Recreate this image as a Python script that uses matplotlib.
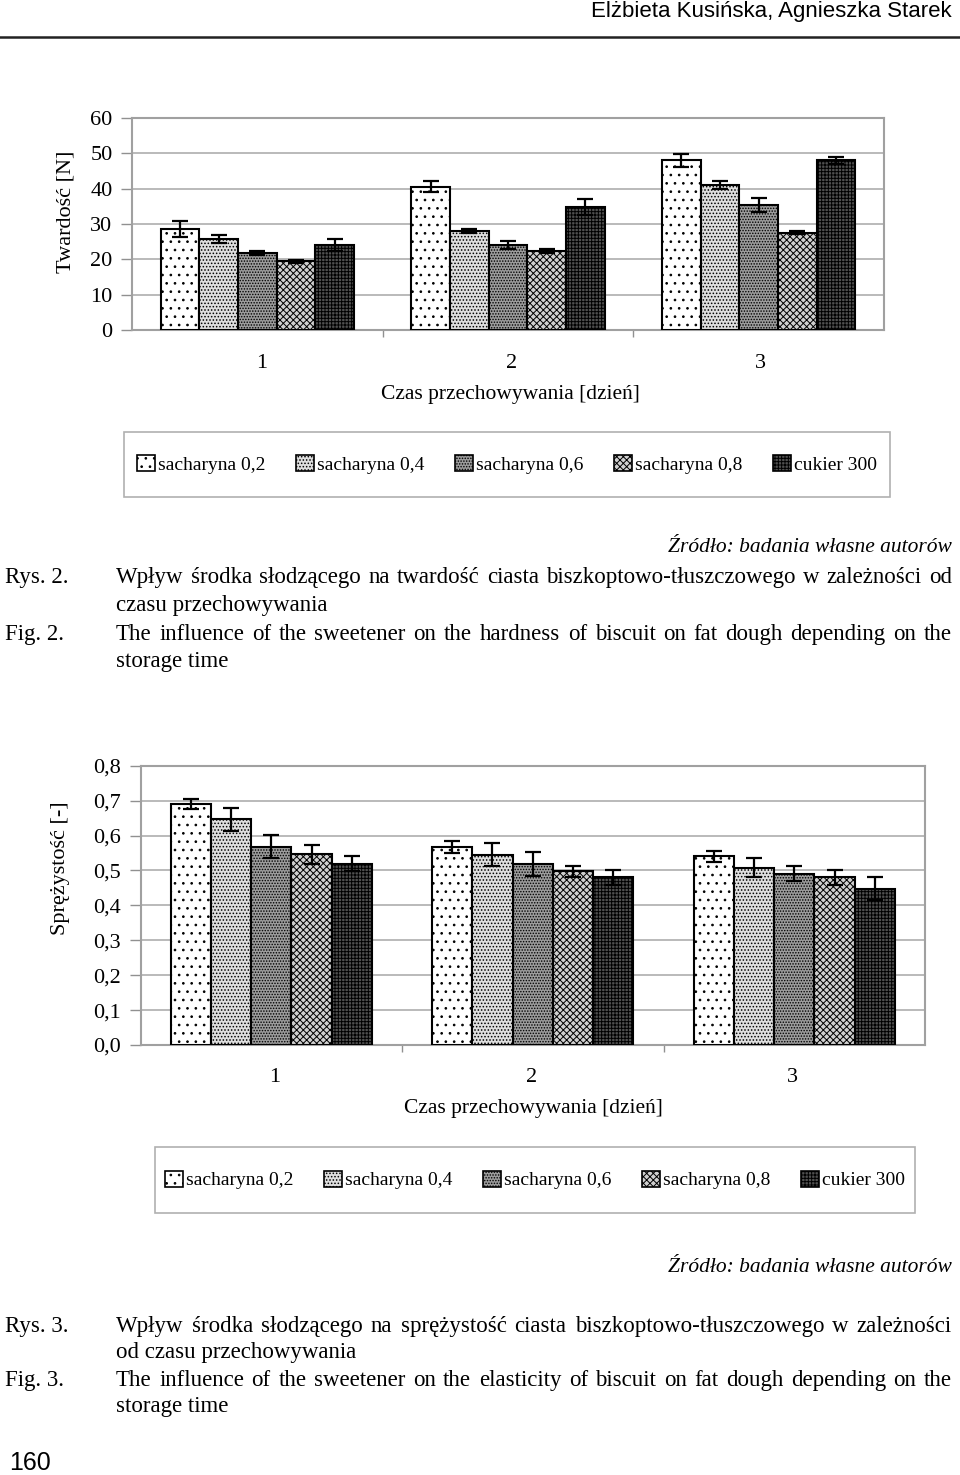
import matplotlib
matplotlib.use('Agg')
import matplotlib.pyplot as plt
import numpy as np
from matplotlib.patches import Patch, Rectangle

# data
days = ['1', '2', '3']
series = ['sacharyna 0,2', 'sacharyna 0,4', 'sacharyna 0,6', 'sacharyna 0,8', 'cukier 300']

hard_s02 = [28.6, 40.6, 48.0]
hard_s04 = [25.7, 28.0, 41.1]
hard_s06 = [21.7, 24.0, 35.4]
hard_s08 = [19.4, 22.3, 27.5]
hard_cuk = [24.1, 34.8, 48.0]
hard_err_s02 = [2.2, 1.6, 1.8]
hard_err_s04 = [1.1, 0.5, 1.1]
hard_err_s06 = [0.6, 1.1, 2.1]
hard_err_s08 = [0.5, 0.6, 0.4]
hard_err_cuk = [1.7, 2.3, 1.1]

elas_s02 = [0.691, 0.567, 0.541]
elas_s04 = [0.646, 0.545, 0.508]
elas_s06 = [0.568, 0.518, 0.491]
elas_s08 = [0.546, 0.497, 0.480]
elas_cuk = [0.519, 0.480, 0.447]
elas_err_s02 = [0.015, 0.018, 0.016]
elas_err_s04 = [0.032, 0.033, 0.027]
elas_err_s06 = [0.033, 0.034, 0.022]
elas_err_s08 = [0.028, 0.016, 0.022]
elas_err_cuk = [0.022, 0.022, 0.033]

hard_ticks = [0, 10, 20, 30, 40, 50, 60]
hard_ticklabels = ['0', '10', '20', '30', '40', '50', '60']
elas_ticks = [0, 0.1, 0.2, 0.3, 0.4, 0.5, 0.6, 0.7, 0.8]
elas_ticklabels = ['0,0', '0,1', '0,2', '0,3', '0,4', '0,5', '0,6', '0,7', '0,8']

# bar styles (face colour, hatch)
styles = [('white', '..'), ('#dedede', '.....'), ('#9c9c9c', '......'),
          ('#d0d0d0', 'xxxxx'), ('#505050', '+++++')]

SERIF = 'Liberation Serif'
SANS = 'Liberation Sans'
W, H = 960, 1475

plt.rcParams['hatch.linewidth'] = 0.7
fig = plt.figure(figsize=(W / 100, H / 100), dpi=100)


def fx(x):
    return x / W


def fy(y):
    return 1 - y / H


def bar_chart(rect, values, errors, ticks, ticklabels, ymax, capsize):
    ax = fig.add_axes(rect)
    x = np.arange(len(days))
    width = 0.77 / len(values)
    for i, (vals, errs) in enumerate(zip(values, errors)):
        fc, hatch = styles[i]
        ax.bar(x + (i - 2) * width, vals, width, color=fc, hatch=hatch,
               edgecolor='black', linewidth=1.5, zorder=3)
        ax.errorbar(x + (i - 2) * width, vals, yerr=errs, fmt='none',
                    ecolor='black', elinewidth=1.6, capsize=capsize,
                    capthick=1.6, zorder=4)
    ax.set_xlim(-0.5, 2.5)
    ax.set_ylim(0, ymax)
    ax.set_yticks(ticks)
    ax.set_yticklabels(ticklabels, fontsize=16, family=SERIF)
    ax.yaxis.grid(True, color='#b4b4b4', linewidth=1.3, zorder=0)
    ax.set_xticks([0.5, 1.5])
    ax.set_xticklabels([])
    ax.tick_params(axis='y', length=8, color='#909090', width=1, pad=6)
    ax.tick_params(axis='x', length=5, color='#909090', width=1, direction='out')
    for s in ax.spines.values():
        s.set_color('#a0a0a0')
        s.set_linewidth(1.5)
    return ax


# top chart - hardness
bar_chart([fx(132), fy(330), fx(884) - fx(132), (330 - 118) / H],
          [hard_s02, hard_s04, hard_s06, hard_s08, hard_cuk],
          [hard_err_s02, hard_err_s04, hard_err_s06, hard_err_s08, hard_err_cuk],
          hard_ticks, hard_ticklabels, 60, 6)
fig.text(fx(66), fy(212), 'Twardość [N]', rotation=90, ha='center', va='center',
         fontsize=16, family=SERIF)
for d, xp in zip(days, [262, 512, 760]):
    fig.text(fx(xp), fy(364), d, ha='center', va='center', fontsize=16, family=SERIF)
fig.text(fx(510), fy(395), 'Czas przechowywania [dzień]', ha='center', va='center',
         fontsize=15.5, family=SERIF)

# bottom chart - elasticity
bar_chart([fx(140.5), fy(1045), fx(925) - fx(140.5), (1045 - 765.7) / H],
          [elas_s02, elas_s04, elas_s06, elas_s08, elas_cuk],
          [elas_err_s02, elas_err_s04, elas_err_s06, elas_err_s08, elas_err_cuk],
          elas_ticks, elas_ticklabels, 0.8, 6)
fig.text(fx(60), fy(868), 'Sprężystość [-]', rotation=90, ha='center', va='center',
         fontsize=16, family=SERIF)
for d, xp in zip(days, [275, 532, 792]):
    fig.text(fx(xp), fy(1078), d, ha='center', va='center', fontsize=16, family=SERIF)
fig.text(fx(533), fy(1108), 'Czas przechowywania [dzień]', ha='center', va='center',
         fontsize=15.5, family=SERIF)


def legend_box(x0, x1, y0, y1):
    fig.patches.append(Rectangle((fx(x0), fy(y1)), fx(x1) - fx(x0), (y1 - y0) / H,
                                 transform=fig.transFigure, fill=False,
                                 edgecolor='#b0b0b0', linewidth=1.2))
    handles = [Patch(facecolor=fc, hatch=h, edgecolor='black', linewidth=1.2)
               for fc, h in styles]
    fig.legend(handles, series, loc='center', ncol=5, frameon=False,
               bbox_to_anchor=(fx((x0 + x1) / 2), fy((y0 + y1) / 2)),
               prop={'family': SERIF, 'size': 14}, handlelength=0.9,
               handleheight=0.9, handletextpad=0.15, columnspacing=1.6)


legend_box(124, 890, 432, 497)
legend_box(155, 915, 1147, 1213)

# page text
fig.text(fx(952), fy(12), 'Elżbieta Kusińska, Agnieszka Starek', ha='right', va='center',
         fontsize=16, family=SANS)
fig.add_artist(plt.Line2D([0, 1], [fy(37), fy(37)], transform=fig.transFigure,
                          color='#222222', linewidth=1.8))
fig.text(fx(9), fy(1463), '160', ha='left', va='center', fontsize=18, family=SANS)

renderer = fig.canvas.get_renderer()
BASE = 6  # baseline offset below the line centre, px


def justified(text, x0, x1, y, size=16.5):
    words = text.split()
    objs = [fig.text(0, fy(y + BASE), w, ha='left', va='baseline', fontsize=size,
                     family=SERIF) for w in words]
    widths = [o.get_window_extent(renderer).width for o in objs]
    gap = (x1 - x0 - sum(widths)) / (len(words) - 1)
    xp = x0
    for o, wd in zip(objs, widths):
        o.set_x(fx(xp))
        xp += wd + gap


def plain(text, x, y, size=16.5):
    fig.text(fx(x), fy(y + BASE), text, ha='left', va='baseline', fontsize=size,
             family=SERIF)


def caption(num, pl1, pl2, en1, en2, ys, ysrc):
    fig.text(fx(952), fy(ysrc), 'Źródło: badania własne autorów', ha='right',
             va='center', fontsize=15.5, family=SERIF, style='italic')
    plain('Rys. %d.' % num, 5, ys[0])
    plain('Fig. %d.' % num, 5, ys[2])
    justified(pl1, 116, 952, ys[0])
    plain(pl2, 116, ys[1])
    justified(en1, 116, 952, ys[2])
    plain(en2, 116, ys[3])


caption(2, 'Wpływ środka słodzącego na twardość ciasta biszkoptowo-tłuszczowego w zależności od',
        'czasu przechowywania',
        'The influence of the sweetener on the hardness of biscuit on fat dough depending on the',
        'storage time', [577, 605, 634, 661], 548)
caption(3, 'Wpływ środka słodzącego na sprężystość ciasta biszkoptowo-tłuszczowego w zależności',
        'od czasu przechowywania',
        'The influence of the sweetener on the elasticity of biscuit on fat dough depending on the',
        'storage time', [1326, 1352, 1380, 1406], 1268)

plt.savefig('out.png', dpi=100)
